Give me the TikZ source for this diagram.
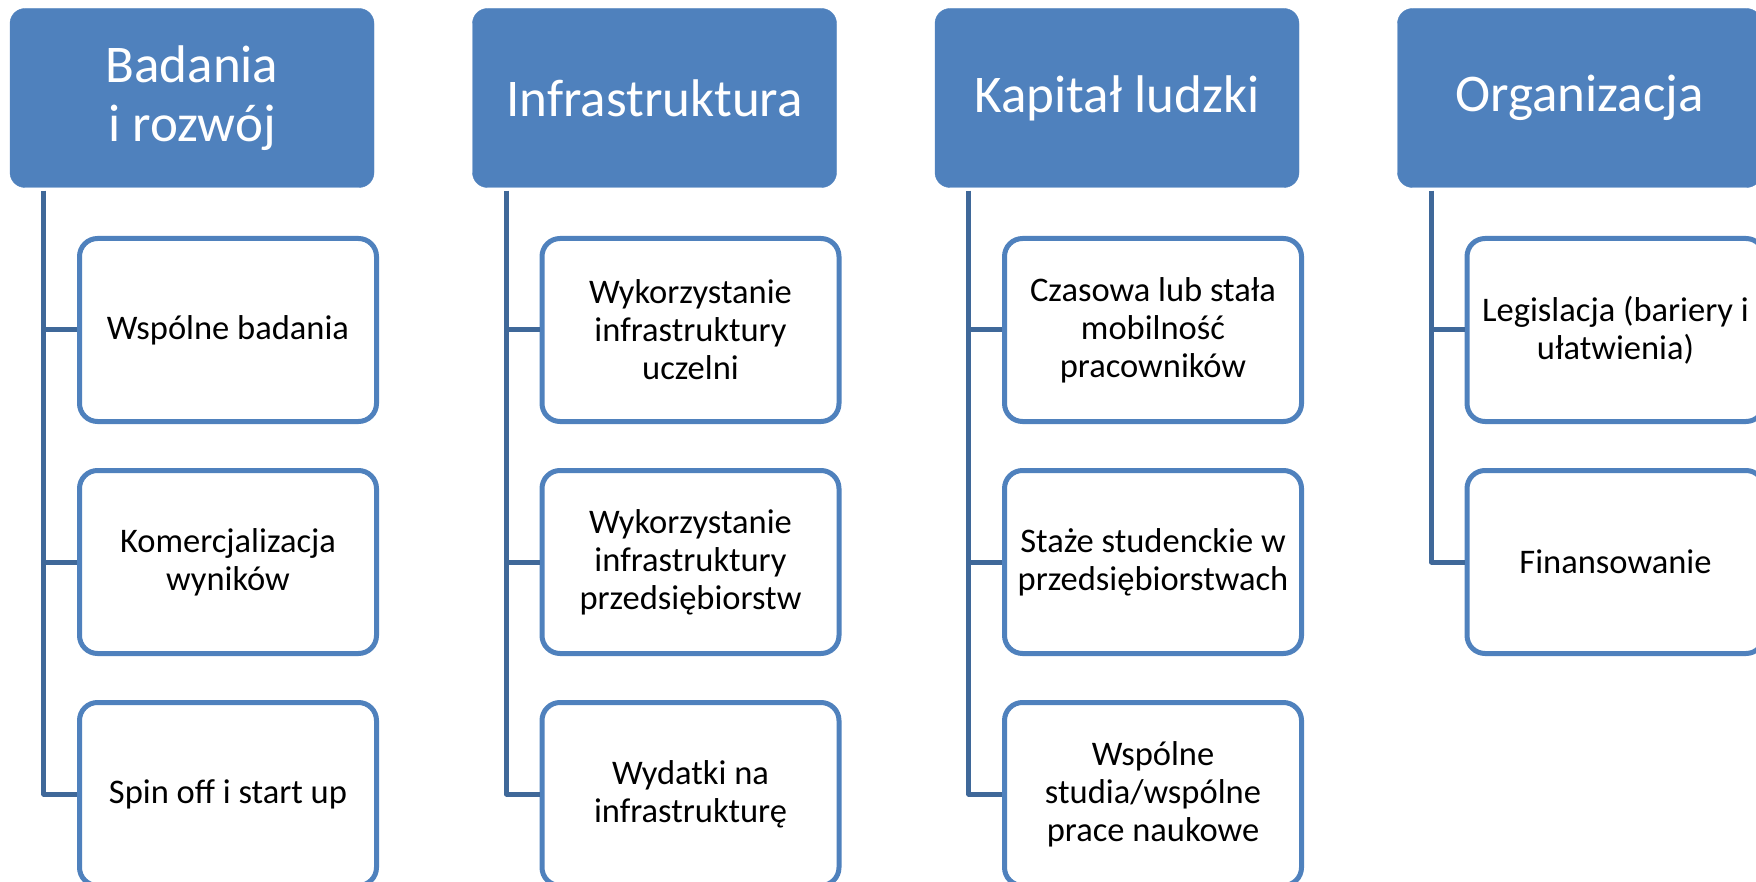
\documentclass[tikz,border=0pt]{standalone}
\usepackage{fontspec}
\setmainfont{Carlito}
\definecolor{hdrblue}{HTML}{4F81BD}
\definecolor{lineblue}{HTML}{3F6899}

\begin{document}
\begin{tikzpicture}[x=1pt, y=-1pt,
    head/.style={fill=hdrblue, draw=hdrblue, rounded corners=15pt,
      minimum width=364pt, minimum height=179pt, text=white,
      font=\fontsize{53}{59}\selectfont, align=center},
    item/.style={draw=hdrblue, line width=5pt, fill=white, rounded corners=18pt,
      minimum width=297pt, minimum height=183pt,
      font=\fontsize{34.5}{38}\selectfont, align=center},
    link/.style={draw=lineblue, line width=5pt, line join=round}]
    \clip (0,0) rectangle (1756,882);
    \useasboundingbox (0,0) rectangle (1756,882);

    \node[head] (h1) at ( 192, 98) {Badania\\i rozwój};
    \node[head] (h2) at ( 654.5, 98) {Infrastruktura};
    \node[head] (h3) at (1117, 98) {Kapitał ludzki};
    \node[head] (h4) at (1579.5, 98) {Organizacja};

    \node[item] (b11) at ( 228, 330) {Wspólne badania};
    \node[item] (b12) at ( 228, 562) {Komercjalizacja\\wyników};
    \node[item] (b13) at ( 228, 794) {Spin off i start up};

    \node[item] (b21) at ( 690.5, 330) {Wykorzystanie\\infrastruktury\\uczelni};
    \node[item] (b22) at ( 690.5, 562) {Wykorzystanie\\infrastruktury\\przedsiębiorstw};
    \node[item] (b23) at ( 690.5, 794) {Wydatki na\\infrastrukturę};

    \node[item] (b31) at (1153, 330) {Czasowa lub stała\\mobilność\\pracowników};
    \node[item] (b32) at (1153, 562) {Staże studenckie w\\przedsiębiorstwach};
    \node[item] (b33) at (1153, 794) {Wspólne\\studia/wspólne\\prace naukowe};

    \node[item] (b41) at (1615.5, 330) {Legislacja (bariery i\\ułatwienia)};
    \node[item] (b42) at (1615.5, 562) {Finansowanie};

    \coordinate (t1) at ([xshift=34pt, yshift=-3pt]h1.south west);
    \coordinate (t2) at ([xshift=34pt, yshift=-3pt]h2.south west);
    \coordinate (t3) at ([xshift=34pt, yshift=-3pt]h3.south west);
    \coordinate (t4) at ([xshift=34pt, yshift=-3pt]h4.south west);

    \draw[link] (t1) |- (b13.west);
    \draw[link] (t1 |- b11.west) -- (b11.west);
    \draw[link] (t1 |- b12.west) -- (b12.west);
    \draw[link] (t2) |- (b23.west);
    \draw[link] (t2 |- b21.west) -- (b21.west);
    \draw[link] (t2 |- b22.west) -- (b22.west);
    \draw[link] (t3) |- (b33.west);
    \draw[link] (t3 |- b31.west) -- (b31.west);
    \draw[link] (t3 |- b32.west) -- (b32.west);
    \draw[link] (t4) |- (b42.west);
    \draw[link] (t4 |- b41.west) -- (b41.west);

  \end{tikzpicture}
\end{document}
